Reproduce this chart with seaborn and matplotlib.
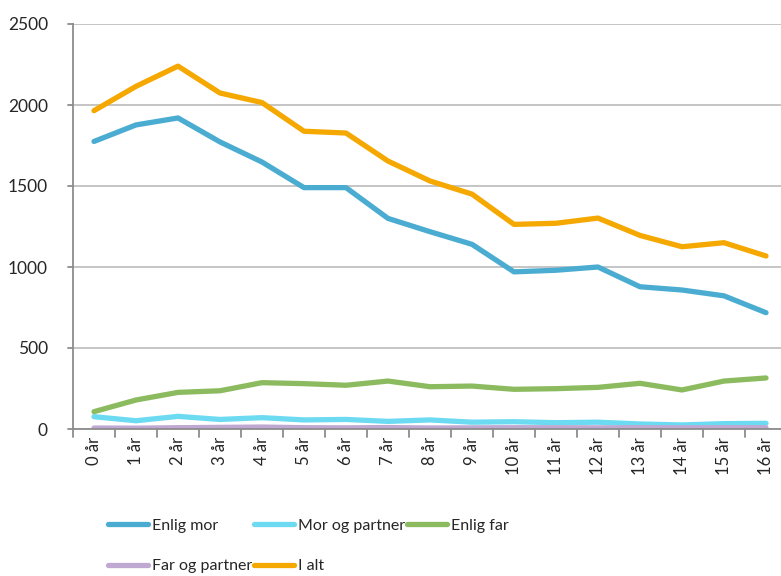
import pandas as pd
import seaborn as sns
import matplotlib.pyplot as plt

# data
ages = ['0 år', '1 år', '2 år', '3 år', '4 år', '5 år', '6 år', '7 år', '8 år',
        '9 år', '10 år', '11 år', '12 år', '13 år', '14 år', '15 år', '16 år']
enlig_mor = [1775, 1877, 1920, 1772, 1648, 1490, 1490, 1300, 1218, 1140,
             970, 980, 1000, 878, 858, 822, 718]
mor_og_partner = [76, 51, 78, 59, 70, 56, 59, 47, 56, 42,
                  45, 39, 42, 31, 25, 33, 35]
enlig_far = [107, 179, 226, 236, 286, 280, 270, 296, 261, 265,
             245, 249, 257, 282, 241, 296, 315]
far_og_partner = [6, 5, 8, 10, 12, 8, 7, 9, 6, 7, 8, 8, 7, 8, 7, 8, 8]
i_alt = [1965, 2115, 2240, 2074, 2015, 1838, 1827, 1654, 1531, 1450,
         1263, 1270, 1302, 1195, 1125, 1150, 1068]

series = {
    'Enlig mor': enlig_mor,
    'Mor og partner': mor_og_partner,
    'Enlig far': enlig_far,
    'Far og partner': far_og_partner,
    'I alt': i_alt,
}
colors = {
    'Enlig mor': '#4BACD2',
    'Mor og partner': '#6CDBF2',
    'Enlig far': '#8CBB5F',
    'Far og partner': '#BFA9D2',
    'I alt': '#F5A800',
}

rows = []
for name, vals in series.items():
    for i, v in enumerate(vals):
        rows.append({'pos': i, 'serie': name, 'antall': v})
df = pd.DataFrame(rows)

sns.set_style('white')
plt.rcParams['font.family'] = ['Lato', 'DejaVu Sans']

fig = plt.figure(figsize=(7.81, 5.76), dpi=100)
ax = fig.add_axes([73 / 781, 147 / 576, 714 / 781, 405 / 576])

sns.lineplot(data=df, x='pos', y='antall', hue='serie', palette=colors,
             hue_order=list(series.keys()), linewidth=3.8, ax=ax,
             legend=False, sort=False)

ax.set_xlim(-0.5, 16.5)
ax.set_ylim(0, 2500)
ax.set_yticks(range(0, 2501, 500))
ax.set_xticks(range(len(ages)))
ax.set_xticklabels(ages, rotation=90, fontsize=12)
ax.tick_params(axis='y', labelsize=12.5, length=0, pad=18)
ax.tick_params(axis='x', length=0, pad=6)
ax.set_xlabel('')
ax.set_ylabel('')
ax.yaxis.grid(True, color='#C0C0C0', linewidth=1.3)
ax.set_axisbelow(True)
for s in ['top', 'right']:
    ax.spines[s].set_visible(False)
for s in ['left', 'bottom']:
    ax.spines[s].set_color('#8C8C8C')
    ax.spines[s].set_linewidth(1.3)

# tick marks between categories and at gridlines, outward
for k in range(18):
    ax.plot([k - 0.5, k - 0.5], [0, -48], color='#8C8C8C', lw=1.3,
            clip_on=False)
for v in range(0, 2501, 500):
    ax.plot([-0.5, -0.62], [v, v], color='#8C8C8C', lw=1.3, clip_on=False)

# legend, ordered so it reads row by row
order = ['Enlig mor', 'Far og partner', 'Mor og partner', 'I alt', 'Enlig far']
handles = [plt.Line2D([], [], color=colors[n], lw=3.8, solid_capstyle='round')
           for n in order]
fig.legend(handles, order, loc='upper left', bbox_to_anchor=(102 / 781, 1 - 512 / 576),
           ncol=3, frameon=False, fontsize=11.5, handlelength=2.5,
           handletextpad=0.25, columnspacing=0.1, labelspacing=1.65,
           borderaxespad=0)

fig.savefig('out.png', dpi=100)
